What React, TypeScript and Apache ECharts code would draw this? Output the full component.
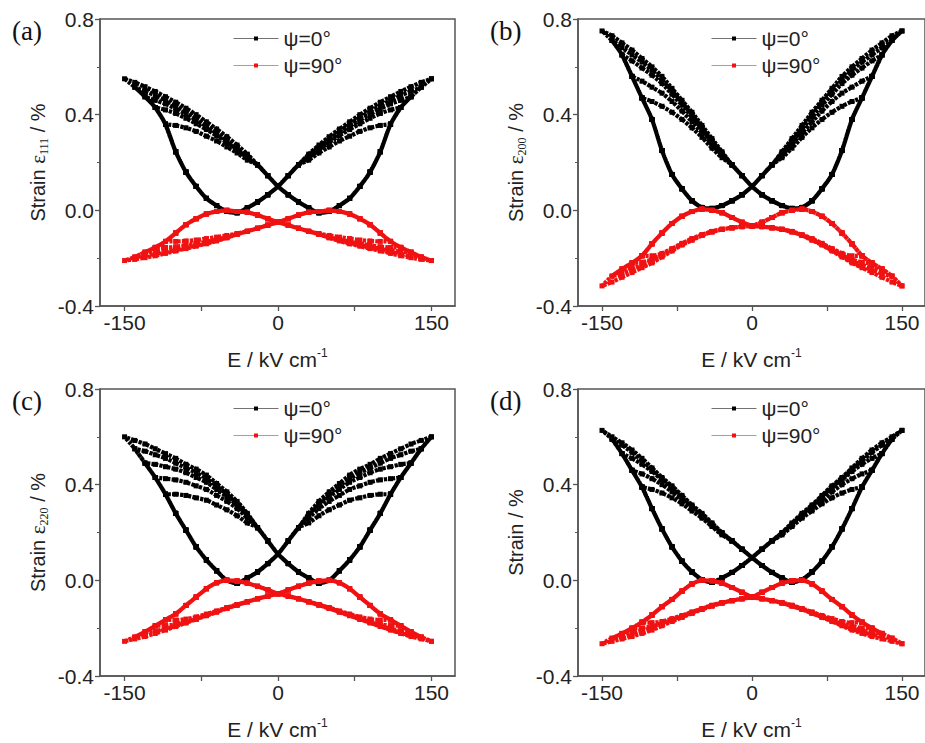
import React, { useEffect, useRef } from 'react';
import * as echarts from 'echarts';

// Field grids (kV/cm)
const E_STEEP = [40, 50, 60, 70, 80, 90, 100, 110, 120, 130, 140, 150];
const E_FLAT = [140, 130, 120, 110, 100, 90, 80, 70, 60, 50, 40, 30];
const E_CROSS = [20, 10, 0, -10, -20, -30];
const LOOP_EMAX = [110, 120, 130, 140, 150];

const X_LABELS = [-150, 0, 150];
const X_TICKS = [-150, -75, 0, 75, 150];
const LEGEND = ['ψ=0°', 'ψ=90°'];

// Panel (a) ε111
const A0_STEEP = [-0.01, -0.005, 0.02, 0.05, 0.1, 0.16, 0.245, 0.36, 0.43, 0.475, 0.515, 0.55];
const A0_LOOPS = [
  [0.355, 0.345, 0.33, 0.31, 0.29, 0.265, 0.24, 0.21],
  [0.42, 0.405, 0.385, 0.362, 0.338, 0.312, 0.284, 0.253, 0.22],
  [0.46, 0.445, 0.425, 0.403, 0.378, 0.351, 0.322, 0.291, 0.258, 0.225],
  [0.498, 0.48, 0.46, 0.438, 0.414, 0.388, 0.36, 0.33, 0.298, 0.265, 0.23],
  [0.535, 0.517, 0.497, 0.475, 0.452, 0.427, 0.4, 0.37, 0.34, 0.308, 0.273, 0.235],
];
const A0_CROSS = [0.19, 0.145, 0.1, 0.065, 0.035, 0.01];
const A90_STEEP = [-0.005, 0.0, -0.005, -0.015, -0.035, -0.06, -0.095, -0.13, -0.155, -0.175, -0.195, -0.21];
const A90_LOOPS = [
  [-0.13, -0.128, -0.124, -0.118, -0.112, -0.105, -0.097, -0.087],
  [-0.155, -0.152, -0.146, -0.139, -0.131, -0.122, -0.112, -0.1, -0.088],
  [-0.173, -0.168, -0.16, -0.152, -0.143, -0.134, -0.124, -0.113, -0.1, -0.088],
  [-0.19, -0.183, -0.175, -0.166, -0.157, -0.147, -0.137, -0.126, -0.114, -0.1, -0.088],
  [-0.205, -0.198, -0.19, -0.18, -0.17, -0.16, -0.15, -0.14, -0.128, -0.115, -0.1, -0.088],
];
const A90_CROSS = [-0.075, -0.062, -0.05, -0.035, -0.02, -0.008];

// Panel (b) ε200
const B0_STEEP = [0.008, 0.012, 0.04, 0.09, 0.15, 0.25, 0.38, 0.47, 0.56, 0.65, 0.71, 0.75];
const B0_LOOPS = [
  [0.455, 0.435, 0.41, 0.38, 0.345, 0.305, 0.26, 0.22],
  [0.54, 0.515, 0.49, 0.455, 0.415, 0.37, 0.325, 0.275, 0.23],
  [0.625, 0.595, 0.565, 0.53, 0.485, 0.44, 0.39, 0.34, 0.285, 0.235],
  [0.68, 0.65, 0.62, 0.585, 0.545, 0.5, 0.45, 0.4, 0.345, 0.29, 0.24],
  [0.73, 0.7, 0.67, 0.635, 0.6, 0.56, 0.51, 0.46, 0.41, 0.355, 0.3, 0.245],
];
const B0_CROSS = [0.19, 0.145, 0.1, 0.065, 0.04, 0.02];
const B90_STEEP = [0.0, 0.005, -0.005, -0.025, -0.055, -0.095, -0.14, -0.19, -0.22, -0.245, -0.275, -0.316];
const B90_LOOPS = [
  [-0.19, -0.18, -0.16, -0.138, -0.118, -0.102, -0.088, -0.079],
  [-0.217, -0.205, -0.185, -0.162, -0.14, -0.12, -0.103, -0.089, -0.079],
  [-0.24, -0.228, -0.21, -0.187, -0.165, -0.142, -0.122, -0.104, -0.09, -0.08],
  [-0.265, -0.25, -0.235, -0.215, -0.19, -0.167, -0.143, -0.123, -0.105, -0.09, -0.08],
  [-0.3, -0.28, -0.26, -0.24, -0.22, -0.195, -0.17, -0.145, -0.125, -0.105, -0.09, -0.08],
];
const B90_CROSS = [-0.073, -0.068, -0.065, -0.05, -0.03, -0.01];

// Panel (c) ε220
const C0_STEEP = [-0.012, 0.0, 0.04, 0.085, 0.14, 0.21, 0.28, 0.36, 0.43, 0.49, 0.55, 0.6];
const C0_LOOPS = [
  [0.36, 0.355, 0.345, 0.335, 0.315, 0.295, 0.27, 0.24],
  [0.425, 0.42, 0.41, 0.395, 0.38, 0.355, 0.33, 0.3, 0.26],
  [0.485, 0.475, 0.465, 0.45, 0.43, 0.41, 0.38, 0.35, 0.315, 0.27],
  [0.54, 0.525, 0.51, 0.49, 0.47, 0.45, 0.425, 0.395, 0.36, 0.32, 0.275],
  [0.585, 0.57, 0.55, 0.53, 0.51, 0.485, 0.465, 0.44, 0.405, 0.37, 0.33, 0.28],
];
const C0_CROSS = [0.22, 0.165, 0.11, 0.07, 0.035, 0.01];
const C90_STEEP = [-0.003, 0.0, -0.01, -0.035, -0.07, -0.105, -0.14, -0.165, -0.19, -0.215, -0.237, -0.255];
const C90_LOOPS = [
  [-0.166, -0.162, -0.153, -0.141, -0.128, -0.114, -0.101, -0.089],
  [-0.189, -0.184, -0.173, -0.159, -0.144, -0.13, -0.115, -0.102, -0.089],
  [-0.212, -0.203, -0.19, -0.176, -0.161, -0.146, -0.131, -0.116, -0.103, -0.09],
  [-0.23, -0.22, -0.206, -0.192, -0.177, -0.162, -0.147, -0.132, -0.117, -0.103, -0.09],
  [-0.245, -0.235, -0.222, -0.208, -0.193, -0.178, -0.163, -0.148, -0.133, -0.118, -0.104, -0.09],
];
const C90_CROSS = [-0.077, -0.066, -0.056, -0.04, -0.025, -0.012];

// Panel (d) total strain
const D0_STEEP = [-0.008, 0.003, 0.035, 0.08, 0.14, 0.215, 0.3, 0.39, 0.46, 0.53, 0.59, 0.627];
const D0_LOOPS = [
  [0.38, 0.365, 0.345, 0.32, 0.29, 0.26, 0.225, 0.19],
  [0.445, 0.425, 0.4, 0.37, 0.335, 0.3, 0.265, 0.23, 0.195],
  [0.51, 0.485, 0.455, 0.42, 0.385, 0.345, 0.305, 0.27, 0.232, 0.196],
  [0.565, 0.535, 0.5, 0.465, 0.425, 0.39, 0.35, 0.31, 0.275, 0.235, 0.198],
  [0.6, 0.575, 0.545, 0.51, 0.47, 0.43, 0.395, 0.355, 0.315, 0.28, 0.24, 0.2],
];
const D0_CROSS = [0.165, 0.13, 0.095, 0.062, 0.033, 0.01];
const D90_STEEP = [-0.002, 0.0, -0.015, -0.045, -0.08, -0.11, -0.145, -0.175, -0.2, -0.222, -0.242, -0.265];
const D90_LOOPS = [
  [-0.177, -0.172, -0.16, -0.147, -0.132, -0.118, -0.104, -0.093],
  [-0.199, -0.192, -0.18, -0.165, -0.15, -0.134, -0.119, -0.105, -0.094],
  [-0.218, -0.21, -0.198, -0.184, -0.168, -0.152, -0.136, -0.12, -0.106, -0.094],
  [-0.235, -0.227, -0.216, -0.203, -0.187, -0.17, -0.153, -0.137, -0.121, -0.107, -0.095],
  [-0.255, -0.245, -0.235, -0.222, -0.208, -0.19, -0.172, -0.155, -0.138, -0.122, -0.108, -0.095],
];
const D90_CROSS = [-0.085, -0.077, -0.07, -0.05, -0.03, -0.012];

// Builds the continuous cycling path from the read branches (wings mirrored about E = 0)
function buildPath(steep: number[], loops: number[][], cross: number[]) {
  const pts: number[][] = [];
  LOOP_EMAX.forEach((m, k) => {
    const top = E_STEEP.indexOf(m);
    const flatE = E_FLAT.filter((e) => e < m);
    const row = loops[k];
    pts.push([m, steep[top]]);
    flatE.forEach((e, j) => pts.push([e, row[j]]));
    E_CROSS.forEach((e, j) => pts.push([e, cross[j]]));
    for (let i = 0; i <= top; i++) pts.push([-E_STEEP[i], steep[i]]);
    flatE.forEach((e, j) => pts.push([-e, row[j]]));
    E_CROSS.forEach((e, j) => pts.push([-e, cross[j]]));
    for (let i = 0; i <= top; i++) pts.push([E_STEEP[i], steep[i]]);
  });
  return pts;
}

const PANELS = [
  { letter: '(a)', left: 100, top: 19, yName: '{t|Strain }{e|ε}{s|111}{t| / %}', s0: [A0_STEEP, A0_LOOPS, A0_CROSS], s90: [A90_STEEP, A90_LOOPS, A90_CROSS] },
  { letter: '(b)', left: 578, top: 19, yName: '{t|Strain }{e|ε}{s|200}{t| / %}', s0: [B0_STEEP, B0_LOOPS, B0_CROSS], s90: [B90_STEEP, B90_LOOPS, B90_CROSS] },
  { letter: '(c)', left: 100, top: 389, yName: '{t|Strain }{e|ε}{s|220}{t| / %}', s0: [C0_STEEP, C0_LOOPS, C0_CROSS], s90: [C90_STEEP, C90_LOOPS, C90_CROSS] },
  { letter: '(d)', left: 578, top: 389, yName: '{t|Strain / %}', s0: [D0_STEEP, D0_LOOPS, D0_CROSS], s90: [D90_STEEP, D90_LOOPS, D90_CROSS] },
];

const FONT = '"Liberation Sans", Arial, sans-serif';
const AXIS_COLOR = '#555';
const TEXT_COLOR = '#222';
const BLACK = '#000000';
const RED = '#f01212';

export default function App() {
  const ref = useRef<HTMLDivElement>(null);
  useEffect(() => {
    if (!ref.current) return;
    const chart = echarts.init(ref.current, undefined, { renderer: 'svg' });
    const grids: any[] = [];
    const xAxes: any[] = [];
    const yAxes: any[] = [];
    const series: any[] = [];
    const legends: any[] = [];
    const graphics: any[] = [];
    PANELS.forEach((p, i) => {
      grids.push({ left: p.left, top: p.top, width: 355, height: 287, show: true, borderColor: AXIS_COLOR, borderWidth: 1.5, backgroundColor: 'transparent' });
      xAxes.push({
        type: 'value', gridIndex: i, min: -174, max: 173,
        name: '{t|E / kV cm}{p|-1}', nameLocation: 'middle', nameGap: 41,
        nameTextStyle: {
          color: TEXT_COLOR, fontFamily: FONT, fontSize: 21,
          rich: {
            t: { fontSize: 21, fontFamily: FONT, color: TEXT_COLOR, lineHeight: 24 },
            p: { fontSize: 12, fontFamily: FONT, color: TEXT_COLOR, lineHeight: 12, verticalAlign: 'top' },
          },
        },
        axisLine: { show: true, onZero: false, lineStyle: { color: AXIS_COLOR, width: 1.5 } },
        axisTick: { show: true, length: 5, customValues: X_TICKS, lineStyle: { color: AXIS_COLOR, width: 1.3 } },
        axisLabel: { customValues: X_LABELS, fontSize: 21, color: TEXT_COLOR, fontFamily: FONT, margin: 6 },
        splitLine: { show: false },
      });
      yAxes.push({
        type: 'value', gridIndex: i, min: -0.4, max: 0.8, interval: 0.4,
        name: p.yName, nameLocation: 'middle', nameGap: 50,
        nameTextStyle: {
          color: TEXT_COLOR, fontFamily: FONT, fontSize: 20,
          rich: {
            t: { fontSize: 20, fontFamily: FONT, color: TEXT_COLOR, lineHeight: 24 },
            e: { fontSize: 21, fontFamily: '"Liberation Serif", serif', color: TEXT_COLOR, lineHeight: 24 },
            s: { fontSize: 12, fontFamily: '"Liberation Serif", serif', color: TEXT_COLOR, lineHeight: 12, verticalAlign: 'bottom' },
          },
        },
        axisLine: { show: true, onZero: false, lineStyle: { color: AXIS_COLOR, width: 1.5 } },
        axisTick: { show: true, length: 5, lineStyle: { color: AXIS_COLOR, width: 1.3 } },
        minorTick: { show: true, splitNumber: 2, length: 3, lineStyle: { color: AXIS_COLOR, width: 1 } },
        axisLabel: { fontSize: 21, color: TEXT_COLOR, fontFamily: FONT, margin: 6, formatter: (v: number) => v.toFixed(1) },
        splitLine: { show: false },
      });
      const mk = (name: string, color: string, d: any[], z: number) => ({
        name, type: 'line', xAxisIndex: i, yAxisIndex: i, data: buildPath(d[0], d[1], d[2]),
        smooth: 0.25, symbol: 'rect', symbolSize: 5, showSymbol: true, silent: true, z,
        lineStyle: { color, width: 4.2, type: [3, 1.1] },
        itemStyle: { color },
        emphasis: { disabled: true },
      });
      series.push(mk(LEGEND[0], BLACK, p.s0, 2));
      series.push(mk(LEGEND[1], RED, p.s90, 3));
      legends.push({
        left: p.left + 128, top: p.top + 4, orient: 'vertical', itemGap: 6, itemWidth: 45, itemHeight: 5,
        data: LEGEND, selectedMode: false,
        textStyle: { fontSize: 21, color: TEXT_COLOR, fontFamily: FONT, padding: [0, 0, 0, 0] },
        lineStyle: { width: 1, type: 'solid', opacity: 0.55 },
        itemStyle: { borderWidth: 0 },
      });
      graphics.push({
        type: 'text', x: p.left - 88, y: p.top + 12,
        style: { text: p.letter, font: '27px "Liberation Serif", serif', fill: '#111', verticalAlign: 'middle' },
      });
    });
    chart.setOption({
      animation: false,
      backgroundColor: '#ffffff',
      grid: grids,
      xAxis: xAxes,
      yAxis: yAxes,
      series,
      legend: legends,
      graphic: graphics,
    });
    return () => chart.dispose();
  }, []);
  return <div ref={ref} style={{ position: 'fixed', left: 0, top: 0, width: 925, height: 743 }} />;
}
